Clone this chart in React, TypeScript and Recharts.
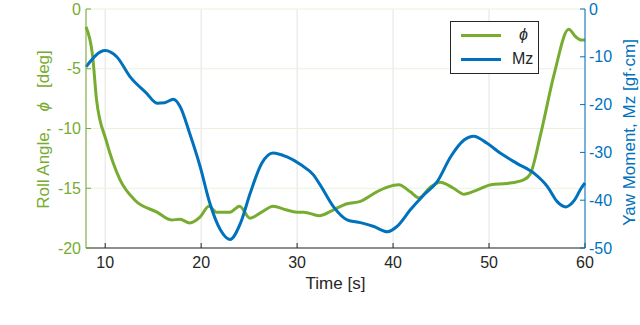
import { CartesianGrid, Line, LineChart, XAxis, YAxis } from 'recharts';

const GREEN = '#77AC30';
const BLUE = '#0072BD';
const DARK = '#262626';
const FONT = '"Liberation Sans", Arial, Helvetica, sans-serif';

// Roll angle phi [deg]
const phiTime = [8, 8.7, 9.1, 10.1, 11.55, 13.1, 15.4, 16.9, 17.8, 18.8, 19.9, 20.8, 21.6, 23.0, 24.0, 25.1, 26.3, 27.5, 28.8, 30.0, 30.7, 32.3, 33.8, 35.2, 36.6, 38.3, 39.4, 40.6, 41.8, 42.7, 43.9, 44.9, 46.3, 47.4, 48.6, 50.2, 51.9, 53.6, 54.3, 55.4, 56.8, 58.3, 59.0, 59.6, 60];
const phiValues = [-1.5, -4.0, -7.6, -11.0, -14.3, -16.0, -17.0, -17.65, -17.6, -17.9, -17.4, -16.5, -17.0, -17.0, -16.5, -17.5, -17.0, -16.5, -16.8, -17.0, -17.0, -17.3, -16.8, -16.3, -16.1, -15.3, -14.9, -14.7, -15.3, -15.8, -14.9, -14.5, -15.0, -15.5, -15.2, -14.7, -14.6, -14.3, -13.8, -10.4, -5.4, -1.7, -2.3, -2.6, -2.6];

// Yaw moment Mz [gf·cm]
const mzTime = [8, 10, 11.2, 12.6, 14.3, 15.4, 16.2, 17.1, 17.8, 18.8, 19.9, 20.9, 22.0, 23.0, 24.1, 25.1, 26.3, 27.5, 28.9, 30.4, 31.7, 32.4, 33.8, 35.2, 36.6, 38.0, 39.4, 40.4, 41.8, 43.2, 44.6, 46.0, 47.4, 48.4, 49.8, 51.2, 52.9, 54.7, 56.1, 57.1, 58.0, 58.9, 59.6, 60];
const mzValues = [-12.1, -8.7, -10.0, -14.2, -17.6, -19.7, -19.6, -18.9, -20.4, -26.0, -33.0, -40.6, -46.2, -48.2, -44.8, -38.6, -32.3, -30.1, -30.9, -32.6, -34.7, -36.8, -41.4, -44.1, -44.7, -45.5, -46.6, -45.5, -42.0, -38.9, -36.1, -30.9, -27.4, -26.6, -28.1, -30.2, -32.3, -34.4, -37.2, -40.3, -41.4, -40.0, -37.5, -36.4];

const timeTicks = [10, 20, 30, 40, 50, 60];
const phiTicks = [-20, -15, -10, -5, 0];
const mzTicks = [-50, -40, -30, -20, -10, 0];

const legendItems = [
  { label: 'ϕ', color: GREEN, italic: true },
  { label: 'Mz', color: BLUE, italic: false }
];

const phiData = phiTime.map((t, i) => ({ t, phi: phiValues[i] }));
const mzData = mzTime.map((t, i) => ({ t, mz: mzValues[i] }));

function LegendBox() {
  return (
    <div
      style={{
        position: 'absolute',
        left: 450,
        top: 21,
        width: 87,
        height: 50,
        border: '1px solid #262626',
        background: '#fff',
        fontFamily: FONT,
        fontSize: 16,
        color: DARK,
        paddingTop: 1
      }}
    >
      {legendItems.map((item) => (
        <div key={item.label} style={{ display: 'flex', alignItems: 'center', height: 24 }}>
          <span style={{ display: 'inline-block', width: 40, height: 3, background: item.color, marginLeft: 10 }} />
          <span style={{ marginLeft: item.italic ? 18 : 11, fontStyle: item.italic ? 'italic' : 'normal' }}>{item.label}</span>
        </div>
      ))}
    </div>
  );
}

export default function App() {
  return (
    <div style={{ position: 'absolute', left: 0, top: 0, width: 640, height: 325, background: '#fff' }}>
      <LineChart width={640} height={325} margin={{ top: 9, right: 0, bottom: 47, left: 0 }}>
        <CartesianGrid horizontal={false} stroke="#e3e3e3" xAxisId="bottom" yAxisId="left" />
        <CartesianGrid vertical={false} stroke="#e9f1de" xAxisId="bottom" yAxisId="left" />
        <XAxis
          xAxisId="bottom"
          dataKey="t"
          type="number"
          domain={[8, 60]}
          ticks={timeTicks}
          allowDuplicatedCategory={false}
          height={30}
          stroke={DARK}
          tickSize={-5}
          tickMargin={14}
          tick={{ fill: DARK, fontSize: 16, fontFamily: FONT }}
          label={({ viewBox }: any) => (
            <text x={viewBox.x + viewBox.width / 2} y={289} textAnchor="middle" fill={DARK} fontSize={17} fontFamily={FONT}>
              Time [s]
            </text>
          )}
        />
        <XAxis
          xAxisId="top"
          orientation="top"
          dataKey="t"
          type="number"
          domain={[8, 60]}
          ticks={timeTicks}
          height={0}
          stroke={DARK}
          tickSize={-5}
          tickFormatter={() => ''}
        />
        <YAxis
          yAxisId="left"
          domain={[-20, 0]}
          ticks={phiTicks}
          width={86}
          stroke={GREEN}
          tickSize={-5}
          tickMargin={10}
          tick={{ fill: GREEN, fontSize: 16, fontFamily: FONT }}
          label={({ viewBox }: any) => {
            const cx = 43;
            const cy = viewBox.y + viewBox.height / 2 + 1;
            return (
              <text
                x={cx}
                y={cy}
                transform={`rotate(-90, ${cx}, ${cy})`}
                textAnchor="middle"
                dominantBaseline="central"
                fill={GREEN}
                fontSize={17}
                fontFamily={FONT}
              >
                <tspan>Roll Angle,</tspan>
                <tspan dx={16} fontStyle="italic">ϕ</tspan>
                <tspan dx={14}>[deg]</tspan>
              </text>
            );
          }}
        />
        <YAxis
          yAxisId="right"
          orientation="right"
          domain={[-50, 0]}
          ticks={mzTicks}
          width={55}
          stroke={BLUE}
          tickSize={-5}
          tickMargin={9}
          tick={{ fill: BLUE, fontSize: 16, fontFamily: FONT }}
          label={({ viewBox }: any) => {
            const cx = 629;
            const cy = viewBox.y + viewBox.height / 2 + 4;
            return (
              <text
                x={cx}
                y={cy}
                transform={`rotate(-90, ${cx}, ${cy})`}
                textAnchor="middle"
                dominantBaseline="central"
                fill={BLUE}
                fontSize={17}
                fontFamily={FONT}
              >
                Yaw Moment, Mz [gf·cm]
              </text>
            );
          }}
        />
        <Line
          data={phiData}
          xAxisId="bottom"
          yAxisId="left"
          dataKey="phi"
          name="ϕ"
          type="monotone"
          stroke={GREEN}
          strokeWidth={3}
          dot={false}
          isAnimationActive={false}
        />
        <Line
          data={mzData}
          xAxisId="bottom"
          yAxisId="right"
          dataKey="mz"
          name="Mz"
          type="monotone"
          stroke={BLUE}
          strokeWidth={3}
          dot={false}
          isAnimationActive={false}
        />
      </LineChart>
      <LegendBox />
    </div>
  );
}
